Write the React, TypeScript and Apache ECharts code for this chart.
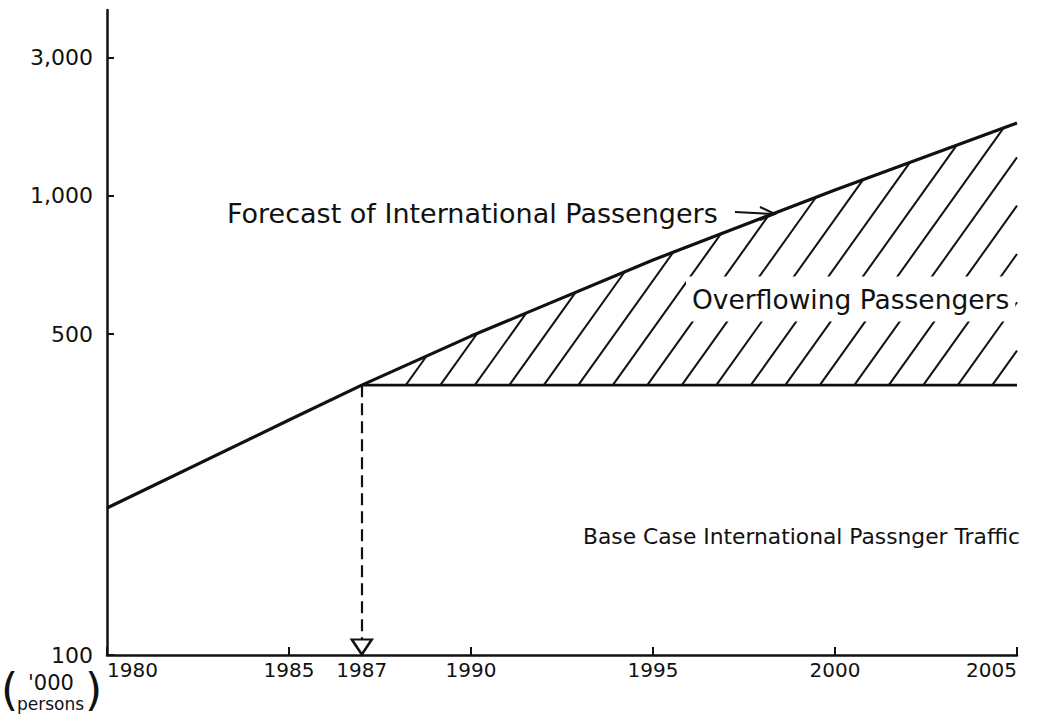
import React, { useEffect, useRef } from "react";
import * as echarts from "echarts";

// ---- data ----
const forecastYears = [1980, 1985, 1987, 1990, 1995, 2000, 2005];
const forecastValues = [209, 325, 387, 495, 725, 1030, 1442]; // '000 persons
const baseYear = 1987;
const baseEndYear = 2005;
const baseValue = 387;
const axisFloor = 100;

const xTickValues = [1980, 1985, 1987, 1990, 1995, 2000, 2005];
const xTickLabels = ["1980", "1985", "1987", "1990", "1995", "2000", "2005"];
const yTickValues = [100, 500, 1000, 2000];
const yTickLabels = ["100", "500", "1,000", "3,000"];

const annForecast = "Forecast of International Passengers";
const annOverflow = "Overflowing Passengers";
const annBase = "Base Case International Passnger Traffic";
const unitTop = "'000";
const unitBottom = "persons";

const INK = "#111";
const HATCH_SPACING = 34.5;
const HATCH_OFFSET = 44;
const HATCH_SLOPE = 1.4;

export default function App() {
  const ref = useRef<HTMLDivElement>(null);
  useEffect(() => {
    if (!ref.current) return;
    const chart = echarts.init(ref.current, undefined, { renderer: "svg" });
    const labelFont = "DejaVu Sans";
    const annFont = "DejaVu Sans";

    const pickLabel = (vals: number[], labels: string[]) => (v: number) => {
      const i = vals.findIndex((t) => Math.abs(t - v) / t < 1e-6);
      return i >= 0 ? labels[i] : "";
    };

    const option: any = {
      animation: false,
      backgroundColor: "#fff",
      grid: { left: 107, right: 45, top: 10, bottom: 71, containLabel: false },
      xAxis: {
        type: "value",
        min: 1980,
        max: 2005,
        axisLine: { show: true, lineStyle: { color: INK, width: 2.5 } },
        axisTick: { show: true, inside: true, length: 8, customValues: xTickValues, lineStyle: { color: INK, width: 2 } },
        axisLabel: {
          customValues: xTickValues,
          formatter: pickLabel(xTickValues, xTickLabels),
          color: INK,
          fontFamily: labelFont,
          fontSize: 20,
          margin: 5,
          alignMinLabel: "left",
          alignMaxLabel: "right",
        },
        splitLine: { show: false },
      },
      yAxis: {
        type: "log",
        min: axisFloor,
        max: 2540,
        axisLine: { show: true, lineStyle: { color: INK, width: 2.5 } },
        axisTick: { show: true, inside: true, length: 7, customValues: yTickValues, lineStyle: { color: INK, width: 2 } },
        minorTick: { show: false },
        axisLabel: {
          customValues: yTickValues,
          formatter: pickLabel(yTickValues, yTickLabels),
          color: INK,
          fontFamily: labelFont,
          fontSize: 22,
          margin: 14,
        },
        splitLine: { show: false },
      },
      series: [
        {
          type: "line",
          data: forecastYears.map((y, i) => [y, forecastValues[i]]),
          symbol: "none",
          lineStyle: { color: INK, width: 3.2 },
          z: 5,
        },
        {
          type: "line",
          data: [
            [baseYear, baseValue],
            [baseEndYear, baseValue],
          ],
          symbol: "none",
          lineStyle: { color: INK, width: 2.6 },
          z: 5,
          markLine: {
            silent: true,
            symbol: ["none", "none"],
            label: { show: false },
            lineStyle: { color: INK, width: 2.2, type: [12, 6] },
            data: [[{ coord: [baseYear, baseValue] }, { coord: [baseYear, axisFloor] }]],
          },
        },
        {
          type: "scatter",
          data: [[baseYear, axisFloor]],
          symbol: "path://M0,0 L20,0 L10,15 Z",
          symbolSize: [20, 15],
          symbolOffset: [0, -8],
          itemStyle: { color: "#fff", borderColor: INK, borderWidth: 2.4, opacity: 1 },
          z: 6,
        },
        {
          type: "custom",
          data: [[baseYear, baseValue]],
          encode: { x: 0, y: 1 },
          z: 4,
          renderItem: (_params: any, api: any) => {
            const pts = forecastYears.map((yr, i) => api.coord([yr, forecastValues[i]]));
            const basePt = api.coord([baseYear, baseValue]);
            const yb = basePt[1];
            const xr = api.coord([baseEndYear, baseValue])[0];
            const s = HATCH_SLOPE;
            const children: any[] = [];
            for (let xs = basePt[0] + HATCH_OFFSET; xs < xr - 2; xs += HATCH_SPACING) {
              let end: number[] | null = null;
              for (let j = 0; j < pts.length - 1; j++) {
                const [ax, ay] = pts[j];
                const [bx, by] = pts[j + 1];
                const m = (by - ay) / (bx - ax);
                const x = (yb + s * xs - ay + m * ax) / (s + m);
                if (x >= ax && x <= bx && x >= xs) {
                  end = [x, ay + m * (x - ax)];
                  break;
                }
              }
              if (!end || end[0] > xr) end = [xr, yb - s * (xr - xs)];
              children.push({
                type: "line",
                shape: { x1: xs, y1: yb, x2: end[0], y2: end[1] },
                style: { stroke: INK, lineWidth: 2 },
              });
            }
            return { type: "group", children };
          },
        },
      ],
      graphic: {
        elements: [
          {
            type: "text",
            x: 227,
            y: 213,
            z: 100,
            style: { text: annForecast, font: `27px "${annFont}"`, fill: INK, verticalAlign: "middle" },
          },
          {
            type: "polyline",
            z: 100,
            shape: { points: [[735, 212], [774, 214]] },
            style: { stroke: INK, lineWidth: 2, fill: null },
          },
          {
            type: "polyline",
            z: 100,
            shape: { points: [[760, 207], [775, 214], [760, 220]] },
            style: { stroke: INK, lineWidth: 2, fill: null },
          },
          {
            type: "text",
            x: 686,
            y: 299,
            z: 100,
            style: {
              text: annOverflow,
              font: `26.5px "${annFont}"`,
              fill: INK,
              verticalAlign: "middle",
              backgroundColor: "#fff",
              padding: [8, 6, 10, 6],
            },
          },
          {
            type: "text",
            x: 583,
            y: 536,
            z: 100,
            style: { text: annBase, font: `21.8px "${annFont}"`, fill: INK, verticalAlign: "middle" },
          },
          {
            type: "text",
            x: 1,
            y: 689,
            z: 100,
            style: { text: "(", font: `44px "${labelFont}"`, fill: INK, verticalAlign: "middle" },
          },
          {
            type: "text",
            x: 28,
            y: 683,
            z: 100,
            style: { text: unitTop, font: `21px "${labelFont}"`, fill: INK, verticalAlign: "middle" },
          },
          {
            type: "text",
            x: 17,
            y: 704,
            z: 100,
            style: { text: unitBottom, font: `17px "${labelFont}"`, fill: INK, verticalAlign: "middle" },
          },
          {
            type: "text",
            x: 85,
            y: 689,
            z: 100,
            style: { text: ")", font: `44px "${labelFont}"`, fill: INK, verticalAlign: "middle" },
          },
        ],
      },
    };
    chart.setOption(option);
    return () => chart.dispose();
  }, []);
  return (
    <div
      ref={ref}
      style={{ position: "fixed", left: 0, top: 0, width: 1062, height: 726, background: "#fff" }}
    />
  );
}
